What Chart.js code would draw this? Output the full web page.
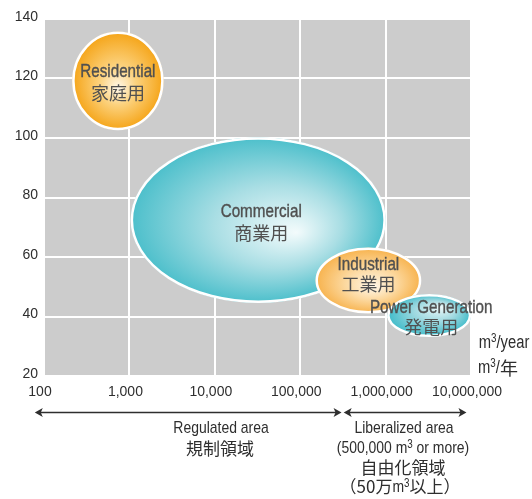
<!DOCTYPE html>
<html><head><meta charset="utf-8">
<script src="https://cdn.jsdelivr.net/npm/chart.js@4/dist/chart.umd.min.js"></script>
<style>html,body{margin:0;padding:0;background:#fff;}canvas{display:block;}</style>
</head><body>
<canvas id="c" width="532" height="499"></canvas>
<script>
// ---- data ----
const categories = ['Residential', 'Commercial', 'Industrial', 'Power Generation'];
const categoriesJa = ['家庭用', '商業用', '工業用', '発電用'];
// annual volume range (m3/year) covered by each bubble
const volumeMin = [215, 1040, 152000, 1050000];
const volumeMax = [2500, 1000000, 2600000, 10000000];
// vertical range covered by each bubble
const valueMin = [102.7, 44.6, 41.1, 33.2];
const valueMax = [135.7, 100.2, 63.1, 47.5];
const xTickValues = [100, 1000, 10000, 100000, 1000000, 10000000];
const yTickValues = [20, 40, 60, 80, 100, 120, 140];
// annotation ranges (m3/year)
const regulatedRange = [78, 305000];
const liberalizedRange = [323000, 8850000];

const FONT = '"Liberation Sans", Arial, sans-serif';
const JFONT = '"Noto Sans CJK JP", "Noto Sans CJK SC", sans-serif';
const SQ = 0.82; // horizontal squeeze to emulate a condensed face

const fills = [
  {hx: 0.0, hy: 0.15, stops: [[0, '#fff8ea'], [0.4, '#fcd27e'], [1, '#f5a417']]},
  {hx: 0.3, hy: 0.15, stops: [[0, '#f3fbfc'], [0.5, '#a9dee4'], [1, '#4cbfcb']]},
  {hx: 0.1, hy: 0.2, stops: [[0, '#fff7e8'], [0.5, '#fcd89e'], [1, '#f7b24c']]},
  {hx: 0.3, hy: -0.4, stops: [[0, '#eef9fa'], [0.5, '#9fd9e0'], [1, '#3fbbc9']]}
];
const labelDy = [[-9, 12], [-8, 13], [-16, 4], [-7.5, 11.5]];
const labelDx = [0, 3, 0, 2];

// draw a run of text parts centred at (cx, cy); each part: [text, sup, family, squeeze]
function runText(ctx, parts, cx, cy, size, weight) {
  let w = 0;
  const items = parts.map(p => {
    const fam = p[2] || FONT;
    const sq = p[3] !== undefined ? p[3] : (fam === FONT ? SQ : 1);
    const sz = p[1] ? Math.round(size * 0.68) : size;
    ctx.font = sz + 'px ' + fam;
    const pw = ctx.measureText(p[0]).width * sq;
    w += pw;
    return {t: p[0], sup: p[1], fam, sq, sz, pw};
  });
  let x = cx - w / 2;
  ctx.textAlign = 'left';
  ctx.textBaseline = 'middle';
  items.forEach(it => {
    ctx.save();
    ctx.font = it.sz + 'px ' + it.fam;
    ctx.translate(x, it.sup ? cy - size * 0.22 : cy);
    ctx.scale(it.sq, 1);
    ctx.fillText(it.t, 0, 0);
    if (weight && it.fam === FONT) {
      ctx.lineWidth = weight;
      ctx.strokeStyle = ctx.fillStyle;
      ctx.strokeText(it.t, 0, 0);
    }
    ctx.restore();
    x += it.pw;
  });
}

const bgPlugin = {
  id: 'bg',
  beforeDraw(chart) {
    const {ctx, chartArea: a} = chart;
    ctx.save();
    ctx.fillStyle = '#cccccc';
    ctx.fillRect(a.left, a.top, a.right - a.left, a.bottom - a.top);
    ctx.restore();
  }
};

const ellipsePlugin = {
  id: 'ellipses',
  afterDatasetsDraw(chart) {
    const ctx = chart.ctx;
    const xs = chart.scales.x, ys = chart.scales.y;
    const geo = categories.map((c, i) => {
      const l = xs.getPixelForValue(volumeMin[i]), r = xs.getPixelForValue(volumeMax[i]);
      const t = ys.getPixelForValue(valueMax[i]), b = ys.getPixelForValue(valueMin[i]);
      return {cx: (l + r) / 2, cy: (t + b) / 2, rx: (r - l) / 2, ry: (b - t) / 2};
    });
    geo.forEach((g, i) => {
      const f = fills[i];
      ctx.save();
      ctx.translate(g.cx, g.cy);
      ctx.scale(g.rx, g.ry);
      const grad = ctx.createRadialGradient(f.hx, f.hy, 0, 0, 0, 1);
      f.stops.forEach(s => grad.addColorStop(s[0], s[1]));
      ctx.beginPath();
      ctx.arc(0, 0, 1, 0, Math.PI * 2);
      ctx.fillStyle = grad;
      ctx.fill();
      ctx.restore();
      ctx.save();
      ctx.beginPath();
      ctx.ellipse(g.cx, g.cy, g.rx - 1, g.ry - 1, 0, 0, Math.PI * 2);
      ctx.strokeStyle = '#ffffff';
      ctx.lineWidth = 2.5;
      ctx.stroke();
      ctx.restore();
    });
    ctx.save();
    ctx.fillStyle = '#505050';
    geo.forEach((g, i) => {
      runText(ctx, [[categories[i], false, FONT, 0.8]], g.cx + labelDx[i], g.cy + labelDy[i][0], 19, 0.4);
      runText(ctx, [[categoriesJa[i], false, JFONT]], g.cx + labelDx[i], g.cy + labelDy[i][1], 18);
    });
    ctx.restore();
  }
};

function arrow(ctx, x1, x2, y) {
  ctx.beginPath();
  ctx.moveTo(x1 + 3, y); ctx.lineTo(x2 - 3, y);
  ctx.stroke();
  ctx.beginPath();
  ctx.moveTo(x1, y); ctx.lineTo(x1 + 8, y - 4.5); ctx.lineTo(x1 + 6, y); ctx.lineTo(x1 + 8, y + 4.5); ctx.closePath();
  ctx.fill();
  ctx.beginPath();
  ctx.moveTo(x2, y); ctx.lineTo(x2 - 8, y - 4.5); ctx.lineTo(x2 - 6, y); ctx.lineTo(x2 - 8, y + 4.5); ctx.closePath();
  ctx.fill();
}

const annoPlugin = {
  id: 'anno',
  afterDraw(chart) {
    const ctx = chart.ctx;
    const xs = chart.scales.x;
    ctx.save();
    ctx.fillStyle = '#2e2e2e';
    ctx.strokeStyle = '#2e2e2e';
    ctx.lineWidth = 1.3;
    const y = 412.5;
    arrow(ctx, xs.getPixelForValue(regulatedRange[0]), xs.getPixelForValue(regulatedRange[1]), y);
    arrow(ctx, xs.getPixelForValue(liberalizedRange[0]), xs.getPixelForValue(liberalizedRange[1]), y);
    runText(ctx, [['Regulated area']], 221, 428, 17);
    runText(ctx, [['規制領域', false, JFONT]], 220, 449, 17);
    runText(ctx, [['Liberalized area']], 404, 428, 17);
    runText(ctx, [['(500,000 m'], ['3', true], [' or more)']], 403, 448, 17);
    runText(ctx, [['自由化領域', false, JFONT]], 403, 468, 17);
    runText(ctx, [['（50万', false, JFONT], ['m'], ['3', true], ['以上）', false, JFONT]], 400, 487, 17);
    // units
    runText(ctx, [['m'], ['3', true], ['/year']], 504, 343, 18);
    runText(ctx, [['m'], ['3', true], ['/'], ['年', false, JFONT]], 498, 368, 18);
    ctx.restore();
  }
};

new Chart(document.getElementById('c'), {
  type: 'bubble',
  data: {
    datasets: [{
      label: 'Usage',
      data: categories.map((c, i) => ({
        x: Math.sqrt(volumeMin[i] * volumeMax[i]),
        y: (valueMin[i] + valueMax[i]) / 2,
        r: 0
      })),
      pointRadius: 0,
      backgroundColor: 'rgba(0,0,0,0)',
      borderWidth: 0
    }]
  },
  options: {
    responsive: false,
    animation: false,
    events: [],
    layout: {padding: {left: 0, top: 19, right: 61, bottom: 0}},
    plugins: {legend: {display: false}, tooltip: {enabled: false}},
    scales: {
      x: {
        type: 'logarithmic',
        min: 100, max: 10000000,
        afterBuildTicks(s) { s.ticks = xTickValues.map(v => ({value: v})); },
        afterFit(s) { s.height = 123; },
        grid: {color: '#ffffff', lineWidth: 2, drawTicks: false},
        border: {display: false},
        ticks: {
          padding: 8,
          autoSkip: false,
          maxRotation: 0,
          labelOffset: -4,
          color: '#2e2e2e',
          font: {family: FONT, size: 14},
          callback: v => Number(v).toLocaleString('en-US')
        }
      },
      y: {
        type: 'linear',
        min: 20, max: 140,
        afterBuildTicks(s) { s.ticks = yTickValues.map(v => ({value: v})); },
        afterFit(s) { s.width = 44; },
        grid: {color: '#ffffff', lineWidth: 2, drawTicks: false},
        border: {display: false},
        ticks: {
          padding: 6,
          color: '#2e2e2e',
          labelOffset: -2,
          font: {family: FONT, size: 14}
        }
      }
    }
  },
  plugins: [bgPlugin, ellipsePlugin, annoPlugin]
});
</script>
</body></html>
